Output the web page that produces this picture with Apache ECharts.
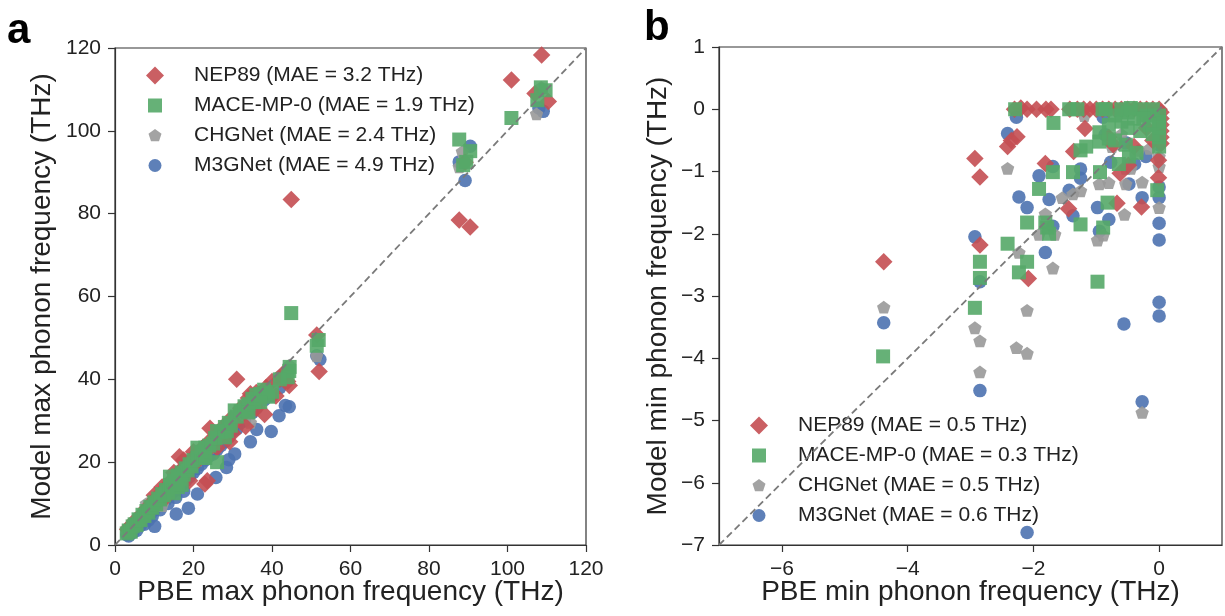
<!DOCTYPE html>
<html>
<head>
<meta charset="utf-8">
<script src="https://cdn.jsdelivr.net/npm/echarts@6/dist/echarts.min.js"></script>
<style>
html,body{margin:0;padding:0;background:#fff;}
#chart{width:1225px;height:616px;}
</style>
</head>
<body>
<div id="chart"></div>
<script>
// ---------------- DATA ----------------
const seriesNames = ['NEP89', 'MACE-MP-0', 'CHGNet', 'M3GNet'];
const maeMax = [3.2, 1.9, 2.4, 4.9];
const maeMin = [0.5, 0.3, 0.5, 0.6];
const axisMaxRange = [0, 120];
const axisMinRange = [-7, 1];
const ticksMax = [0, 20, 40, 60, 80, 100, 120];
const ticksMinX = [-6, -4, -2, 0];
const ticksMinY = [-7, -6, -5, -4, -3, -2, -1, 0, 1];

// panel a: [PBE max, model max]
const nepMax = [
  [108.7,118.3],[101,112.3],[107,109],[110.4,107.1],[89.2,92.4],[44.9,83.4],[87.7,78.5],[90.5,76.8],
  [51.4,50.7],[52,41.9],[31,40],[44.4,38.5],[34.5,36.5],[24.2,28.2],[16.4,21.3],[22.9,14.7],
  [38.1,31.5],[33.3,28.6],[29.2,24.9],[42,40],[41,36],[23.5,15.5],[17.5,20.5],[19,15.5],[12,14],
  [3.2,3.8],[3.8,4.5],[4.5,4.2],[5,5.8],[5.8,5.2],[6.5,7],[7.2,7.8],[8,8.8],[8.8,8.2],[9.5,10.3],
  [10.3,11.2],[11,10.6],[11.8,12.7],[12.5,12],[13.2,14.2],[14,13.4],[14.8,16],[15.5,15],[16.2,17.5],
  [17,16.3],[17.8,19],[18.5,17.8],[19.2,20.3],[20,19.3],[20.8,22],[21.5,21],[22.3,23.5],[23,22.3],
  [24,25],[25,24.5],[25.8,26.5],[26.5,25.8],[27.5,28.5],[28.5,27.5],[29.5,30.5],[30.5,29.5],[32,33],
  [33,32],[34,35.5],[35,33.8],[36,36.8],[37,35.5],[38.5,38],[40,39.5],[43,41.5],[44,39.5],
  [10,12],[13,11.5],[15,17.5],[20,22.5],[26,23.5],[30,27],[36,33]
];
const maceMax = [
  [109.7,109.8],[108.5,110.5],[107.6,107.4],[101,103.1],[87.7,97.9],[90.5,95.1],[88.7,91.7],[89.5,92.5],
  [44.9,56],[51.9,49.5],[51.4,48.1],[44.4,42],[44,40.5],[44.5,43],
  [3,2.8],[3.5,3.5],[4,3.2],[4.5,4.5],[5,5],[5.5,4.8],[6,6.2],[6.5,6],[7,7.3],[7.5,7],[8,8.2],[8.5,7.8],
  [9,9.2],[9.5,9],[10,10.3],[10.5,9.8],[11,11.2],[11.5,11],[12,12.3],[12.5,12],[13,13.3],[13.5,12.8],
  [14,14.5],[14.5,14],[15,15.5],[15.5,15],[16,16.8],[16.5,16],[17,17.5],[17.5,17],[18,18.5],[18.5,18],
  [19,19.5],[19.5,19],[20,20.5],[21,21],[22,22.5],[22.5,21.5],[23,23.5],[24,24],[25,24.5],[25.5,25.8],
  [26,20],[27,27.3],[28,28.5],[28.5,27.5],[29,29.5],[29.5,28.8],[30.5,32.5],[31,31],[32,32.3],[33,33.5],
  [33.5,32.5],[34,34],[35,35.3],[35.5,34.5],[36,36.2],[37,36.5],[38,37.5],[38.5,36.5],[39,35.8],[40,37],[42,40],
  [15,12.5],[16,14],[14,16.5],[17,14.5],[21,23.5],[23,21],[26,27.5],[28,26],[34,32],[37,34.5]
];
const chgMax = [
  [107.4,104.1],[108.6,110.5],[88.5,95],[87.7,91.3],[51.4,45.7],[44.4,43.4],[34.5,29.6],
  [3,3.2],[4,3.8],[5,5.2],[6,5.5],[7,7],[8,7.5],[8.5,9],[9,8.5],[10,9.8],[11,10.5],[12,11.8],[12.5,11],
  [13,12.5],[14,13.8],[15,14.5],[15.5,15.5],[16,15],[17,16.8],[18,17.5],[19,18.5],[20,19.5],[21,20.5],
  [22,21.5],[23,22.5],[24,23.5],[25,24.5],[26,25],[27,26.5],[28,27],[29,28.5],[30,29],[31,30.5],[32,31],
  [33,32.5],[34,33.5],[35,34],[36,35],[37,36.5],[38,37],[40,38.5],[42,41],[44,42.5],[8,10],[12,9.5],[18,19.5]
];
const m3gMax = [
  [109.1,104.7],[108,105.5],[90.5,96.3],[87.7,92.5],[89.2,88],[52.2,44.8],[51.4,45.7],[44.4,33.4],
  [43.4,33.7],[41.8,31.2],[39.8,27.4],[36.1,27.9],[34.5,24.9],[30.5,22],[29,20.6],[28.4,18.7],
  [25.7,16.3],[21,12.3],[18.7,8.9],[15.6,7.5],[10.1,4.5],
  [3,2.5],[3.5,2.2],[4,3.2],[4.5,3],[5,4],[5.5,3.5],[6,5],[6.5,4.8],[7,5.8],[7.5,5],[8,6.5],[8.5,6],
  [9,7.5],[9.5,7],[10,8.5],[11,9.5],[11.5,8.5],[12,10.5],[13,11],[13.5,10],[14,12],[15,13],[15.5,11.5],
  [16,14],[17,14.5],[17.5,13],[18,15.5],[19,16.5],[20,17.5],[21,18.5],[22,19.5],[23,20.5],[24,21.5],
  [25,22],[26,23],[27,24],[28,25],[29,26],[30,27.5],[31,28],[32,29.5],[33,30],[35,32],[36,33],[38,35],
  [40,36],[42,38]
];

// panel b: [PBE min, model min]
const nepMin = [
  [-2.3,0],[-2.2,0.02],[-2.1,0],[-1.95,0],[-1.8,0],[-1.72,0],[-1.42,0],[-1.3,0],[-1.2,0],[-1.1,0],
  [-1.0,0],[-0.9,0],[-0.8,0],[-0.7,0],[-0.6,0],[-0.5,0],[-0.4,0],[-0.3,0],[-0.2,0],[-0.1,0],[0,0],
  [0.03,-0.05],[0.03,-0.15],[0.03,-0.25],[0.03,-0.35],[0.03,-0.45],[0.03,-0.55],
  [-4.38,-2.45],[-2.93,-0.79],[-2.85,-1.09],[-2.85,-2.18],[-2.41,-0.6],[-2.26,-0.44],[-2.35,-0.5],
  [-2.08,-2.72],[-1.81,-0.87],[-1.44,-1.6],[-1.18,-0.31],[-1.36,-0.68],[-0.67,-1.51],[-0.28,-1.57],
  [-0.01,-1.1],[-0.01,-0.82],[-0.73,-0.57],[-0.62,-1.03],[-0.49,-0.9],[-0.4,-0.6],[-0.2,-0.3],
  [-0.1,-0.5],[-0.8,-0.45]
];
const maceMin = [
  [-4.39,-3.97],[-2.93,-3.19],[-2.85,-2.45],[-2.85,-2.71],[-2.41,-2.16],[-2.23,-2.62],[-2.1,-2.45],
  [-2.1,-1.82],[-1.91,-1.28],[-1.81,-1.82],[-1.75,-2.0],[-1.78,-1.9],[-1.69,-1.01],[-1.68,-0.22],
  [-2.29,0],[-1.43,0],[-1.3,0],[-0.9,0],[-0.85,0],[-1.37,-1.01],[-1.25,-1.85],[-1.25,-0.66],
  [-1.16,-0.6],[-0.98,-2.77],[-0.94,-1.01],[-0.89,-1.9],[-0.82,-1.5],[-0.95,-0.37],[-0.95,-0.52],
  [-0.8,-0.47],[-0.7,-0.5],[-0.64,-0.88],[-0.53,-0.57],[-0.48,-0.76],[-0.36,-0.7],[-0.03,-1.3],
  [0,-0.1],[0,-0.2],[0,-0.3],[0,-0.45],[0,-0.6],[-0.1,0],[-0.2,-0.1],[-0.3,0],[-0.4,-0.15],
  [-0.5,-0.05],[-0.6,-0.2],[-0.7,-0.1],[-0.5,-0.3],[-0.3,-0.35],[-0.15,-0.25],[-0.1,-0.4],[-0.6,0],
  [-0.45,0.02],[-0.8,-0.25],[-0.25,-0.15]
];
const chgMin = [
  [-4.38,-3.18],[-2.93,-3.51],[-2.85,-3.72],[-2.85,-4.22],[-2.41,-0.95],[-2.27,-3.83],[-2.1,-3.92],
  [-2.1,-3.23],[-2.23,-2.3],[-1.81,-1.68],[-1.69,-2.55],[-1.91,-2.01],[-1.66,-2.01],[-1.54,-1.42],
  [-1.37,-1.36],[-1.25,-1.31],[-1.19,-0.1],[-0.98,-2.1],[-0.89,-2.02],[-0.95,-1.2],[-0.8,-1.18],
  [-0.55,-1.69],[-0.53,-1.2],[-0.27,-1.17],[-0.27,-4.87],[0,-1.58],[0,-0.92],[0,-0.76],[-0.15,-0.63],
  [-0.33,-0.66],[-0.53,-0.95],[-0.9,0],[0,-0.5],[-0.6,-0.4],[-0.2,-0.1],[-0.45,-0.95],[-0.75,-0.6]
];
const m3gMin = [
  [-4.38,-3.43],[-2.93,-2.05],[-2.85,-4.52],[-2.85,-2.77],[-2.41,-0.39],[-2.27,-0.13],[-2.23,-1.41],
  [-2.1,-1.58],[-2.1,-6.8],[-1.91,-1.07],[-1.81,-2.3],[-1.75,-1.45],[-1.69,-1.88],[-1.69,-0.92],
  [-1.43,-1.3],[-1.37,-1.71],[-1.25,-0.96],[-1.25,-1.11],[-0.98,-1.58],[-0.95,-1.96],[-0.8,-1.77],
  [-0.89,-0.13],[-0.77,-0.85],[-0.56,-3.45],[-0.48,-1.2],[-0.39,-0.88],[-0.27,-4.7],[-0.27,-1.42],
  [-0.21,-0.76],[0,-1.25],[0,-1.42],[0,-1.83],[0,-2.1],[0,-3.1],[0,-3.32],[0,-0.57],[-0.86,-0.41],
  [-0.53,-0.54]
];

// ---------------- STYLE ----------------
const colors = ['#C44E52', '#55A868', '#999999', '#4C72B0'];
const FONT = "'Liberation Sans', Arial, Helvetica, sans-serif";
const PENT = 'path://M8,1.5L14.18,5.99L11.82,13.26L4.18,13.26L1.82,5.99Z';
const symbols = ['diamond', 'rect', PENT, 'circle'];
const sizes = [17.5, 14, [13.4, 12.8], 13.5];
const zs = [4, 5, 3, 2];
const legendIcons = [
  'path://M0,0M18,18M9,0L18,9L9,18L0,9Z',
  'path://M0,0M18,18M2,2L16,2L16,16L2,16Z',
  'path://M0,0M18,18M9,2.5L15.5,7.2L13,14.8L5,14.8L2.5,7.2Z',
  'path://M0,0M18,18M2.5,9A6.5,6.5,0,1,1,15.5,9A6.5,6.5,0,1,1,2.5,9Z'
];
const minus = v => String(v).replace('-', '\u2212');

const dataMax = [nepMax, maceMax, chgMax, m3gMax];
const dataMin = [nepMin, maceMin, chgMin, m3gMin];

function valueAxis(gridIndex, range, name, gap, opts) {
  return Object.assign({
    type: 'value', gridIndex: gridIndex, min: range[0], max: range[1],
    name: name, nameLocation: 'middle', nameGap: gap, nameMoveOverlap: false,
    nameTextStyle: { fontFamily: FONT, fontSize: 28, color: '#222' },
    axisLine: { show: true, onZero: false, lineStyle: { color: '#333', width: 1.2 } },
    axisTick: { show: true, inside: false, length: 7, lineStyle: { color: '#333', width: 1.2 } },
    axisLabel: { fontFamily: FONT, fontSize: 21, color: '#222', margin: 14, formatter: minus },
    splitLine: { show: false }
  }, opts);
}

const series = [];
for (let i = 0; i < 4; i++) {
  [0, 1].forEach(p => {
    series.push({
      name: seriesNames[i] + ' ' + p,
      type: 'scatter',
      xAxisIndex: p, yAxisIndex: p,
      data: p === 0 ? dataMax[i] : dataMin[i],
      symbol: symbols[i], symbolSize: sizes[i],
      itemStyle: { color: colors[i], opacity: 0.9 },
      z: zs[i], silent: true, emphasis: { disabled: true }
    });
  });
}
const legendNamesA = seriesNames.map(n => n + ' 0');
const legendNamesB = seriesNames.map(n => n + ' 1');

series.push({
  type: 'line', xAxisIndex: 0, yAxisIndex: 0,
  data: [[axisMaxRange[0], axisMaxRange[0]], [axisMaxRange[1], axisMaxRange[1]]],
  symbol: 'none', silent: true, z: 6,
  lineStyle: { color: '#7a7a7a', width: 1.8, type: [7, 4] }
});
series.push({
  type: 'line', xAxisIndex: 1, yAxisIndex: 1,
  data: [[axisMinRange[0], axisMinRange[0]], [axisMinRange[1], axisMinRange[1]]],
  symbol: 'none', silent: true, z: 6,
  lineStyle: { color: '#7a7a7a', width: 1.8, type: [7, 4] }
});

function legendFor(names, mae, left, top) {
  return {
    orient: 'vertical', left: left, top: top, padding: 0,
    itemWidth: 18, itemHeight: 18, itemGap: 9,
    selectedMode: false,
    data: names.map((n, i) => ({ name: n, icon: legendIcons[i] })),
    formatter: function (name) {
      const i = names.indexOf(name);
      return seriesNames[i] + ' (MAE = ' + mae[i].toFixed(1) + ' THz)';
    },
    textStyle: { fontFamily: FONT, fontSize: 21, color: '#222', padding: [0, 0, 0, 25] }
  };
}

const option = {
  animation: false,
  backgroundColor: '#fff',
  title: [
    { text: 'a', left: 7, top: 10, padding: 0, textStyle: { fontFamily: FONT, fontSize: 42, fontWeight: 'bold', color: '#000' } },
    { text: 'b', left: 644, top: 7, padding: 0, textStyle: { fontFamily: FONT, fontSize: 42, fontWeight: 'bold', color: '#000' } }
  ],
  grid: [
    { left: 115, top: 48, width: 471, height: 497, show: true, borderColor: '#333', borderWidth: 1.2, backgroundColor: 'transparent' },
    { left: 719, top: 47, width: 503, height: 498, show: true, borderColor: '#333', borderWidth: 1.2, backgroundColor: 'transparent' }
  ],
  xAxis: [
    valueAxis(0, axisMaxRange, 'PBE max phonon frequency (THz)', 33, { interval: 20 }),
    valueAxis(1, axisMinRange, 'PBE min phonon frequency (THz)', 33, {
      interval: 1,
      axisLabel: { fontFamily: FONT, fontSize: 21, color: '#222', margin: 14, formatter: minus, customValues: ticksMinX },
      axisTick: { show: true, length: 7, lineStyle: { color: '#333', width: 1.2 }, customValues: ticksMinX }
    })
  ],
  yAxis: [
    valueAxis(0, axisMaxRange, 'Model max phonon frequency (THz)', 59, { interval: 20 }),
    valueAxis(1, axisMinRange, 'Model min phonon frequency (THz)', 47, { interval: 1 })
  ],
  legend: [
    legendFor(legendNamesA, maeMax, 146, 65),
    legendFor(legendNamesB, maeMin, 750, 415)
  ],
  series: series
};

const chart = echarts.init(document.getElementById('chart'), null, { renderer: 'canvas' });
chart.setOption(option);
</script>
</body>
</html>
